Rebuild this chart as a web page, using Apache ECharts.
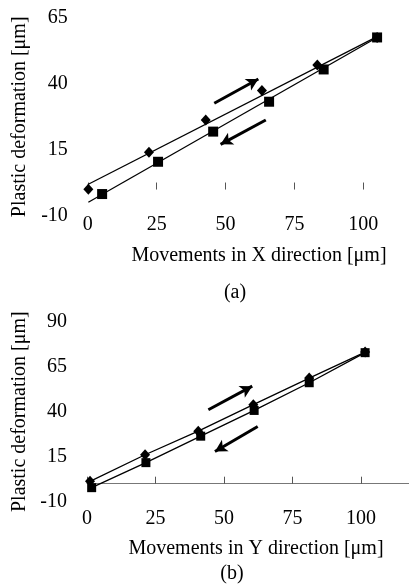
<!DOCTYPE html>
<html>
<head>
    <meta charset="UTF-8">
    <title>Plastic deformation</title>
    <script src="https://cdn.jsdelivr.net/npm/echarts@6.0.0/dist/echarts.min.js"></script>
    <style>
        html, body { margin: 0; padding: 0; background: #fff; }
        #chart { width: 409px; height: 584px; }
    </style>
</head>
<body>
    <div id="chart"></div>
    <script type="text/javascript">
        // (a) X direction - loading (diamonds) and unloading (squares)
        var aLoadX = [0.2, 22.2, 42.8, 63.2, 83.3, 105];
        var aLoadY = [0.1, 14.1, 26.3, 37.4, 47.1, 57.5];
        var aUnloadX = [5.2, 25.5, 45.5, 65.8, 85.6, 105];
        var aUnloadY = [-1.7, 10.5, 21.9, 33.2, 45.4, 57.5];
        // trend lines at both ends
        var aTrendLoadX = [0, 105];
        var aTrendLoadY = [1.9, 57.8];
        var aTrendUnloadX = [0.2, 105];
        var aTrendUnloadY = [-4.8, 57.5];
        var aArrowUp = [[45.9, 32.6], [61.9, 41.8]];
        var aArrowDown = [[64.6, 26.3], [48.2, 17.1]];

        // (b) Y direction
        var bLoadX = [1.1, 21.2, 40.6, 60.7, 81.1, 101.5];
        var bLoadY = [1.3, 16.1, 29.2, 43.9, 58.7, 73.1];
        var bUnloadX = [1.7, 21.5, 41.5, 61, 81.1, 101.5];
        var bUnloadY = [-2.2, 11.7, 26.4, 40.7, 56.1, 72.8];
        var bArrowUp = [[44.3, 41.1], [60.3, 54.2]];
        var bArrowDown = [[62.3, 31.8], [46.7, 17.9]];

        var xTicks = [0, 25, 50, 75, 100, 125];
        var aYTicks = [-10, 15, 40, 65];
        var bYTicks = [-10, 15, 40, 65, 90];

        var font = 'Liberation Serif';

        function pairs(xs, ys) {
            return xs.map(function (x, i) { return [x, ys[i]]; });
        }

        function xAxisFor(idx, lineColor, labelMargin) {
            return {
                type: 'value',
                gridIndex: idx,
                min: xTicks[0],
                max: xTicks[xTicks.length - 1],
                interval: 25,
                axisLine: { show: true, onZero: true, lineStyle: { color: lineColor, width: 1 } },
                axisTick: { show: true, inside: true, length: 7, lineStyle: { color: '#555', width: 1 } },
                splitLine: { show: false },
                axisLabel: { color: '#000', fontFamily: font, fontSize: 20, margin: labelMargin }
            };
        }

        function yAxisFor(idx, ticks) {
            return {
                type: 'value',
                gridIndex: idx,
                min: ticks[0],
                max: ticks[ticks.length - 1],
                interval: 25,
                name: 'Plastic deformation [\u03bcm]',
                nameLocation: 'middle',
                nameRotate: 90,
                nameGap: 56,
                nameTextStyle: { color: '#000', fontFamily: font, fontSize: 20 },
                axisLine: { show: false },
                axisTick: { show: false },
                splitLine: { show: false },
                axisLabel: { color: '#000', fontFamily: font, fontSize: 20, margin: 20 }
            };
        }

        // arrow = thick 2-point line with an arrow symbol on its end point
        function arrowSeries(idx, a, rot) {
            return {
                type: 'line',
                xAxisIndex: idx, yAxisIndex: idx,
                silent: true,
                z: 5,
                lineStyle: { color: '#000', width: 3 },
                itemStyle: { color: '#000' },
                data: [
                    { value: a[0], symbol: 'none' },
                    { value: a[1], symbol: 'arrow', symbolSize: [10, 12], symbolRotate: rot || 0 }
                ]
            };
        }

        var arrowList = [[0, aArrowUp], [0, aArrowDown], [1, bArrowUp], [1, bArrowDown]];

        var captionStyle = { color: '#000', fontFamily: font, fontSize: 20, fontWeight: 'normal' };

        var chart = echarts.init(document.getElementById('chart'));

        function buildSeries(rots) {
            var s = [
                {
                    type: 'line', xAxisIndex: 0, yAxisIndex: 0,
                    data: pairs(aTrendLoadX, aTrendLoadY),
                    showSymbol: false,
                    lineStyle: { color: '#000', width: 1.3 }
                },
                {
                    type: 'line', xAxisIndex: 0, yAxisIndex: 0,
                    data: pairs(aTrendUnloadX, aTrendUnloadY),
                    showSymbol: false,
                    lineStyle: { color: '#000', width: 1.3 }
                },
                {
                    type: 'scatter', xAxisIndex: 0, yAxisIndex: 0,
                    data: pairs(aLoadX, aLoadY),
                    symbol: 'diamond', symbolSize: [10, 11],
                    itemStyle: { color: '#000', opacity: 1 }
                },
                {
                    type: 'scatter', xAxisIndex: 0, yAxisIndex: 0,
                    data: pairs(aUnloadX, aUnloadY),
                    symbol: 'rect', symbolSize: 10,
                    itemStyle: { color: '#000', opacity: 1 }
                },
                {
                    type: 'line', xAxisIndex: 1, yAxisIndex: 1,
                    data: pairs(bLoadX, bLoadY),
                    symbol: 'diamond', symbolSize: [10, 11],
                    itemStyle: { color: '#000' },
                    lineStyle: { color: '#000', width: 1.3 }
                },
                {
                    type: 'line', xAxisIndex: 1, yAxisIndex: 1,
                    data: pairs(bUnloadX, bUnloadY),
                    symbol: 'rect', symbolSize: 9,
                    itemStyle: { color: '#000' },
                    lineStyle: { color: '#000', width: 1.3 }
                }
            ];
            arrowList.forEach(function (item, i) {
                s.push(arrowSeries(item[0], item[1], rots[i]));
            });
            return s;
        }

        chart.setOption({
            animation: false,
            title: [
                { text: 'Movements in X direction [\u03bcm]', left: 254, top: 241, textAlign: 'center', textStyle: captionStyle },
                { text: '(a)', left: 230, top: 278, textAlign: 'center', textStyle: captionStyle },
                { text: 'Movements in Y direction [\u03bcm]', left: 251, top: 534, textAlign: 'center', textStyle: captionStyle },
                { text: '(b)', left: 227, top: 559, textAlign: 'center', textStyle: captionStyle }
            ],
            grid: [
                { left: 87.8, right: -23.2, top: 17.6, bottom: 368, outerBoundsMode: 'none', containLabel: false },
                { left: 87, right: -20.5, top: 321.7, bottom: 82.3, outerBoundsMode: 'none', containLabel: false }
            ],
            xAxis: [xAxisFor(0, 'rgba(0,0,0,0)', -1), xAxisFor(1, '#777', 7)],
            yAxis: [yAxisFor(0, aYTicks), yAxisFor(1, bYTicks)],
            series: buildSeries([0, 0, 0, 0])
        });

        // turn each arrow head along its shaft, measured in screen pixels
        var rots = arrowList.map(function (item) {
            var g = { gridIndex: item[0] };
            var p0 = chart.convertToPixel(g, item[1][0]);
            var p1 = chart.convertToPixel(g, item[1][1]);
            var ang = Math.atan2(-(p1[1] - p0[1]), p1[0] - p0[0]) * 180 / Math.PI;
            return ang - 90;
        });
        chart.setOption({ series: buildSeries(rots) });
    </script>
</body>
</html>
